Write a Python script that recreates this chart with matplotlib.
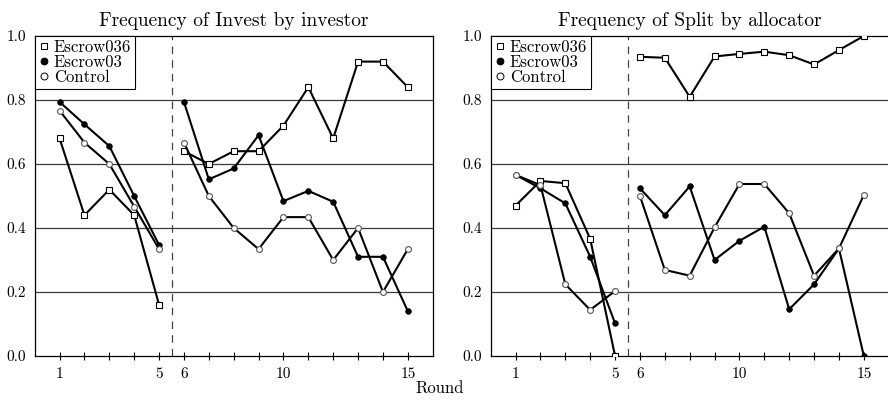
import matplotlib
matplotlib.use("Agg")
import matplotlib.pyplot as plt

plt.rcParams["font.family"] = ["cmr10", "DejaVu Serif"]
plt.rcParams["mathtext.fontset"] = "cm"
plt.rcParams["axes.formatter.use_mathtext"] = True

# ---------------------------------------------------------------------------
# Data: frequency per round, rounds 1-5 and 6-15 are separate blocks
# ---------------------------------------------------------------------------
ROUNDS_A = [1, 2, 3, 4, 5]
ROUNDS_B = [6, 7, 8, 9, 10, 11, 12, 13, 14, 15]

invest_escrow036 = [0.68, 0.44, 0.52, 0.44, 0.16,
                    0.64, 0.60, 0.64, 0.64, 0.72, 0.84, 0.68, 0.92, 0.92, 0.84]
invest_escrow03 = [0.794, 0.724, 0.656, 0.50, 0.347,
                   0.794, 0.552, 0.586, 0.69, 0.484, 0.516, 0.482, 0.31, 0.31, 0.14]
invest_control = [0.767, 0.667, 0.60, 0.467, 0.334,
                  0.667, 0.50, 0.40, 0.334, 0.434, 0.434, 0.30, 0.40, 0.20, 0.334]

split_escrow036 = [0.47, 0.547, 0.54, 0.366, 0.0,
                   0.935, 0.932, 0.81, 0.936, 0.944, 0.951, 0.94, 0.911, 0.956, 1.0]
split_escrow03 = [0.566, 0.524, 0.477, 0.31, 0.102,
                  0.524, 0.44, 0.53, 0.30, 0.36, 0.404, 0.146, 0.224, 0.336, 0.0]
split_control = [0.566, 0.534, 0.224, 0.144, 0.203,
                 0.50, 0.269, 0.251, 0.402, 0.5375, 0.5375, 0.446, 0.251, 0.336, 0.503]

TITLES = ["Frequency of Invest by investor", "Frequency of Split by allocator"]
SERIES_NAMES = ["Escrow036", "Escrow03", "Control"]
XTICK_SHOWN = [1, 5, 6, 10, 15]
YTICKS = [0.0, 0.2, 0.4, 0.6, 0.8, 1.0]

STYLES = {
    "Escrow036": dict(marker="s", markersize=4.5, markerfacecolor="white",
                      markeredgecolor="black", markeredgewidth=0.8),
    "Escrow03": dict(marker="o", markersize=4.0, markerfacecolor="black",
                     markeredgecolor="black", markeredgewidth=0.6),
    "Control": dict(marker="o", markersize=4.2, markerfacecolor="white",
                    markeredgecolor="#555555", markeredgewidth=0.8),
}
LEGEND_STYLES = {
    "Escrow036": dict(marker="s", markersize=4.5, markerfacecolor="white",
                      markeredgecolor="black", markeredgewidth=0.7),
    "Escrow03": dict(marker="o", markersize=5.0, markerfacecolor="black",
                     markeredgecolor="black", markeredgewidth=0.6),
    "Control": dict(marker="o", markersize=5.0, markerfacecolor="white",
                    markeredgecolor="black", markeredgewidth=0.7),
}


def draw_panel(ax, title, series):
    n_a = len(ROUNDS_A)
    for name, values in zip(SERIES_NAMES, series):
        st = STYLES[name]
        # two separate line pieces, one per block of rounds
        ax.plot(ROUNDS_A, values[:n_a], color="black", lw=1.5, zorder=3, **st)
        ax.plot(ROUNDS_B, values[n_a:], color="black", lw=1.5, zorder=3, **st)
        # marker-only proxy for the legend
        ax.plot([], [], linestyle="none", label=name, **LEGEND_STYLES[name])

    for y in YTICKS[1:-1]:
        ax.axhline(y, color="#3a3a3a", lw=0.9, zorder=1)
    ax.axvline(5.5, color="#444444", lw=0.9, linestyle=(0, (6, 5)), zorder=1)

    ax.set_xlim(0, 16)
    ax.set_ylim(0, 1.0)
    ax.set_xticks(range(1, 16))
    ax.set_xticklabels([str(r) if r in XTICK_SHOWN else "" for r in range(1, 16)])
    ax.set_yticks(YTICKS)
    ax.set_yticklabels([f"{v:.1f}" for v in YTICKS])
    ax.tick_params(axis="x", direction="inout", length=6, width=0.8,
                   labelsize=11, pad=5)
    ax.tick_params(axis="y", length=0, labelsize=11, pad=6)
    for sp in ax.spines.values():
        sp.set_linewidth(0.9)
        sp.set_color("black")
    ax.set_title(title, fontsize=14, pad=7)

    leg = ax.legend(loc="upper left", fontsize=12, handlelength=0.7,
                    handletextpad=0.25, labelspacing=0.0, borderpad=0.2,
                    borderaxespad=0.0, fancybox=False, framealpha=1)
    leg.get_frame().set_edgecolor("black")
    leg.get_frame().set_linewidth(0.8)


fig = plt.figure(figsize=(8.88, 4.05), dpi=100)
W, H = 888.0, 405.0
ax_w = 398.0 / W
ax_h = 320.0 / H
ax_bottom = 1 - 356.0 / H
ax1 = fig.add_axes([34.7 / W, ax_bottom, ax_w, ax_h])
ax2 = fig.add_axes([490.7 / W, ax_bottom, ax_w, ax_h])

draw_panel(ax1, TITLES[0], [invest_escrow036, invest_escrow03, invest_control])
draw_panel(ax2, TITLES[1], [split_escrow036, split_escrow03, split_control])

fig.text(440.0 / W, 1 - 388.0 / H, "Round", ha="center", va="center", fontsize=12)

fig.savefig("out.png", dpi=100)
